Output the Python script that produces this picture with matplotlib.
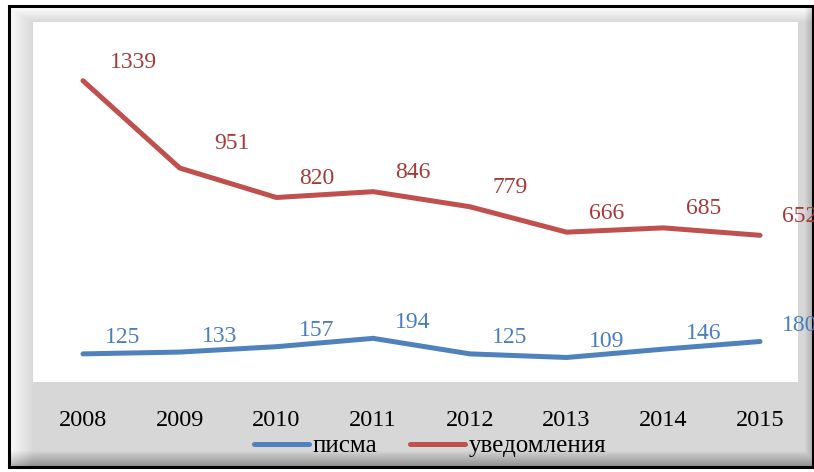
import matplotlib
matplotlib.use("Agg")
import matplotlib.pyplot as plt
from matplotlib.patches import Rectangle
import numpy as np

plt.rcParams['font.family'] = ['Liberation Serif', 'DejaVu Serif']

# data
years = ['2008', '2009', '2010', '2011', '2012', '2013', '2014', '2015']
pisma = [125, 133, 157, 194, 125, 109, 146, 180]
uvedomleniya = [1339, 951, 820, 846, 779, 666, 685, 652]
series_names = ['писма', 'уведомления']

W, H = 814, 472
fig = plt.figure(figsize=(W / 100, H / 100), dpi=100)
fig.patch.set_facecolor('white')

# background frame drawn in pixel coords
bg = fig.add_axes([0, 0, 1, 1])
bg.set_xlim(0, W)
bg.set_ylim(H, 0)
bg.axis('off')

x0, x1, y0, y1 = 9, 813, 6, 467
xx, yy = np.meshgrid(np.arange(x0, x1), np.arange(y0, y1))
shade = np.full(xx.shape, 0.84)
top = np.clip((22 - yy) / 16, 0, 1)
left = np.clip((33 - xx) / 23, 0, 1)
bottom = np.clip((yy - 450) / 17, 0, 1)
right = np.clip((xx - 804) / 9, 0, 1)
shade = shade + (1.0 - shade) * np.maximum(top, left * 0.85)
shade = shade - 0.30 * np.maximum(bottom, right * 0.6)
bg.imshow(shade, cmap='gray', vmin=0, vmax=1, extent=(x0, x1, y1, y0),
          aspect='auto', interpolation='bilinear')
bg.add_patch(Rectangle((x0, y0), x1 - x0, y1 - y0, fill=False,
                       edgecolor='black', linewidth=2.2))

# main plot area
L, R, T, B = 33, 798, 22, 382
ax = fig.add_axes([L / W, (H - B) / H, (R - L) / W, (B - T) / H])
ax.set_facecolor('white')

x = np.arange(len(years))
blue, red = '#4F81BD', '#C0504D'
ax.plot(x, pisma, color=blue, lw=3.6, solid_capstyle='round', label=series_names[0])
ax.plot(x, uvedomleniya, color=red, lw=3.6, solid_capstyle='round', label=series_names[1])

for xi, v in zip(x, pisma):
    ax.annotate(str(v), (xi, v), xytext=(40, 16), textcoords='offset pixels',
                ha='center', va='center', fontsize=17, color='#4A7EBB')
for i, (xi, v) in enumerate(zip(x, uvedomleniya)):
    dx, dy = (50, 18) if i == 0 else (52, 25) if i == 1 else (40, 19)
    ax.annotate(str(v), (xi, v), xytext=(dx, dy), textcoords='offset pixels',
                ha='center', va='center', fontsize=17, color='#A33B39')

sp = (760 - 83) / 7
ax.set_xlim(-(83 - L) / sp, 7 + (R - 760) / sp)
ax.set_ylim(0, 1600)
ax.set_xticks(x)
ax.set_xticklabels(years, fontsize=17.5)
ax.set_yticks([])
ax.tick_params(axis='x', length=0, pad=20)
for s in ax.spines.values():
    s.set_visible(False)

fig.legend(loc='center', bbox_to_anchor=(430 / W, (H - 446) / H), ncol=2,
           frameon=False, fontsize=18, handlelength=2.2, handletextpad=0.15,
           columnspacing=1.3)

fig.savefig('out.png', dpi=100)
